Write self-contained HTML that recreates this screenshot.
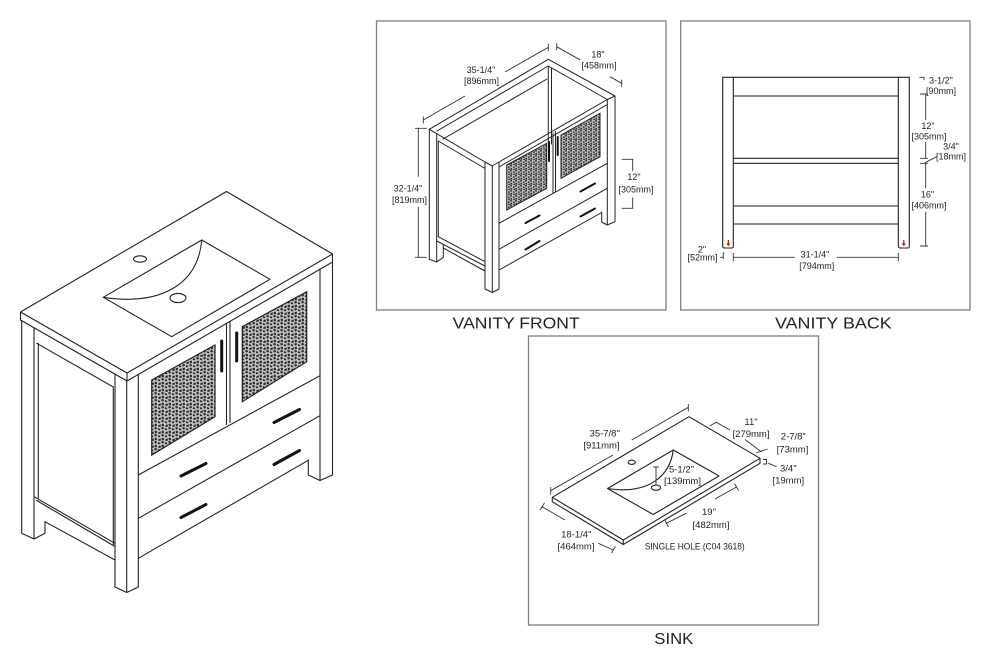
<!DOCTYPE html>
<html><head><meta charset="utf-8">
<style>
html,body{margin:0;padding:0;background:#fff;}
svg{display:block;}
text{font-family:"Liberation Sans",sans-serif;fill:#222;}
</style></head><body>
<svg width="990" height="664" viewBox="0 0 990 664" xmlns="http://www.w3.org/2000/svg">
<defs>
<pattern id="gl" width="7" height="7" patternUnits="userSpaceOnUse">
<rect width="7" height="7" fill="#c4c4c4"/>
<path d="M0,0.5 L2.5,0 L3,1.8 L1,2.6Z M4,1 L6.5,2 L5.5,3.5 L3.8,2.8Z M0.5,4 L2.8,3.6 L3,6 L1,6.5Z M4.5,5 L7,4.5 L6.5,7 L4.2,6.8Z" fill="#2a2a2a"/>
</pattern>
<pattern id="gs" width="5" height="5" patternUnits="userSpaceOnUse">
<rect width="5" height="5" fill="#bdbdbd"/>
<path d="M0,0 L2,0.3 L1.6,1.8 L0.2,1.5Z M3,1.2 L5,1.8 L4.2,3 L2.8,2.6Z M0.4,3 L2,2.8 L2.2,4.6 L0.6,4.8Z M3.4,3.8 L5,3.6 L4.8,5 L3.2,5Z" fill="#2a2a2a"/>
</pattern>
</defs>

<!-- ============ LEFT VANITY ============ -->
<g fill="none" stroke="#222" stroke-width="1.1" stroke-linejoin="round" stroke-linecap="round">
<path d="M226.5,191.5 L332.5,254 L127,373 L20.5,312 Z"/>
<path d="M20.5,312 V320 L127,381 L332.5,262 V254 M127,373 V381"/>
<path d="M103.3,297.3 L201.7,240 L270,279.3 L171.7,336.7 Z"/>
<path d="M201.7,240 C198,285 160,306 103.3,297.3"/>
<ellipse cx="140" cy="259" rx="6.5" ry="3.2"/>
<ellipse cx="178" cy="298" rx="8" ry="4.6"/>
<path d="M21.7,320.5 V533.3 L34,539 L45,533.3 V521.7 M34,327.5 V539"/>
<path d="M36.7,343.3 L113.3,387 M38.3,343.3 V498 M113.3,387 V545"/>
<path d="M34,496.7 L115,543.3 M36.7,500.5 L115,546.5 M45,521.7 L115,560"/>
<path d="M115,374 V587 L126.7,592.5 L138.3,587 V374.5 M126.7,381 V592.5"/>
<path d="M332.5,262 V475 L320,480.5 L308.3,475 V460 M320,269.5 V480.5"/>
<path d="M138.3,475 L320,375.7 M138.3,518.3 L320,415.7 M138.3,558.3 L308.3,460.3"/>
<path d="M226.5,323.5 V424.5 M230,321.5 V422.5"/>
</g>
<polygon points="151.7,380 215,345 215,416.7 151.7,455" fill="url(#gl)" stroke="#222" stroke-width="1.2"/>
<polygon points="242.3,326.7 306.7,291.7 306.7,361.7 242.3,401.7" fill="url(#gl)" stroke="#222" stroke-width="1.2"/>
<g stroke="#111" stroke-width="3" stroke-linecap="round">
<path d="M221.7,341 V371 M236.7,333 V361"/>
<path d="M181,476 L206,463.5 M274,422.5 L299.5,409.5 M181,517.5 L206,504.5 M274,464.5 L299.5,450.5"/>
</g>

<!-- ============ VANITY FRONT BOX ============ -->
<rect x="376.5" y="21" width="289.5" height="289" fill="none" stroke="#808080" stroke-width="1.3"/>
<g fill="none" stroke="#222" stroke-width="1" stroke-linejoin="round" stroke-linecap="round">
<path d="M429.3,129.3 L548.3,59.3 L615,96 V221.7 L607.3,225 L601.7,222 V212"/>
<path d="M429.3,129.3 V259.3 L436.7,262 L443.3,257.3 V245 M436.7,133.5 V262"/>
<path d="M429.3,129.3 L485,162 L492.3,166 L499,162 L607.3,99.5 L615,96"/>
<path d="M438.3,141 L485,168.5 M499,167 L607.3,104.5"/>
<path d="M437,131 L548.3,66 L607.3,99.5 M443,139 L547,79 M548.3,66 V142 M551.5,68 V144"/>
<path d="M485,162 V289 L492.3,292.5 L499,289 V162 M492.3,166 V292.5"/>
<path d="M438.3,141 V236.7 M438.3,236.7 L485,261.7 M436.7,241 L485,266 M443.3,248 L485,271"/>
<path d="M499,223.3 L607.3,163.3 M499,249.3 L607.3,188.3 M499,270 L601.7,212.5"/>
<path d="M607.3,99.5 V225"/>
<path d="M553,133 V193.5 M555.5,131.5 V192"/>
</g>
<polygon points="506.7,165 546.7,143.3 546.7,188.3 506.7,210" fill="url(#gs)" stroke="#222" stroke-width="1"/>
<polygon points="561,135 600,113.3 600,156.7 561,178.3" fill="url(#gs)" stroke="#222" stroke-width="1"/>
<g stroke="#111" stroke-width="2" stroke-linecap="round">
<path d="M549,142 V161 M557.7,137 V155"/>
<path d="M525.5,223 L539.5,215.5 M580.5,191.5 L595,183.5 M525.5,249.5 L539.5,241 M580.5,216.5 L595,208.5"/>
</g>
<g fill="none" stroke="#333" stroke-width="0.9">
<path d="M423.3,120 L465,96 M505,72 L548.3,47.3 M423.3,116.5 V123.5 M548.3,43.8 V50.8"/>
<path d="M556.7,46.7 L580,59.8 M610,76.7 L621.7,83.3 M556.7,43.2 V50.2 M621.7,79.8 V86.8"/>
<path d="M418.3,128.3 V176.7 M418.3,206.7 V257.3 M415,128.3 H426.7 M415,257.3 H426.7"/>
<path d="M632.7,159.3 V171 M632.7,197.5 V208.3 M621.7,159.3 H633.3 M621.7,208.3 H633.3"/>
</g>
<g font-size="9" text-anchor="middle">
<text x="481" y="73">35-1/4"</text>
<text x="481.5" y="84">[896mm]</text>
<text x="598" y="57.5">18"</text>
<text x="599" y="68.5">[458mm]</text>
<text x="408" y="191.5">32-1/4"</text>
<text x="409.5" y="203">[819mm]</text>
<text x="634" y="180">12"</text>
<text x="636" y="192.5">[305mm]</text>
</g>

<!-- ============ VANITY BACK BOX ============ -->
<rect x="680.7" y="21" width="289.3" height="289" fill="none" stroke="#808080" stroke-width="1.3"/>
<g fill="none" stroke="#222" stroke-width="1.1">
<path d="M722.7,246.7 V77.3 H909.3 V246.7 M733.3,77.3 V246.7 M898.3,77.3 V246.7"/>
<path d="M722.7,246.7 Q723,248 725,248 H731 Q733.3,248 733.3,246.7"/>
<path d="M898.3,246.7 Q898.6,248 900.6,248 H907 Q909.3,248 909.3,246.7"/>
<path d="M733.3,96 H898.3 M733.3,158.3 H898.3 M733.3,163.3 H898.3 M733.3,206 H898.3 M733.3,224 H898.3"/>
</g>
<g stroke="#e00000" stroke-width="1.2"><path d="M728.3,240 V244 M903.8,240 V244"/></g>
<g fill="#e00000"><polygon points="726.3,243.3 730.3,243.3 728.3,246.3"/><polygon points="901.8,243.3 905.8,243.3 903.8,246.3"/></g>
<g fill="none" stroke="#333" stroke-width="0.9">
<path d="M919.3,77.3 H924 V80"/>
<path d="M925.7,94 V120 M925.7,141.7 V158.3 M925.7,163.3 V188.3 M925.7,211.7 V246 M920,94 H928 M920,158.3 H928 M920,163.3 H928 M920,246 H928"/>
<path d="M925,162.7 L936.7,156.7"/>
<path d="M720,257.3 H723.3 M723.3,252 V259"/>
<path d="M733.3,257.3 H795 M836.7,257.3 H898.3 M733.3,253 V261.5 M898.3,253 V261.5"/>
</g>
<g font-size="9" text-anchor="middle">
<text x="941" y="83.5">3-1/2"</text>
<text x="941" y="94">[90mm]</text>
<text x="928" y="129">12"</text>
<text x="929" y="139.5">[305mm]</text>
<text x="951" y="149.5">3/4"</text>
<text x="951" y="159.5">[18mm]</text>
<text x="927.5" y="197.5">16"</text>
<text x="929" y="208.5">[406mm]</text>
<text x="702" y="252.5">2"</text>
<text x="702.5" y="260.5">[52mm]</text>
<text x="815" y="257.5">31-1/4"</text>
<text x="816.7" y="269">[794mm]</text>
</g>

<!-- ============ SINK BOX ============ -->
<rect x="528.5" y="336" width="290" height="289" fill="none" stroke="#808080" stroke-width="1.3"/>
<g fill="none" stroke="#222" stroke-width="1.1" stroke-linejoin="round">
<path d="M552.3,497.3 L689,416.7 L760,458.3 L623.3,540 Z"/>
<path d="M552.3,497.3 V501.8 L623.3,544.5 L760,463.3 V458.3 M623.3,540 V544.5"/>
<path d="M607.5,488.5 L673.3,450 L719,476 L653.2,514.5 Z"/>
<path d="M673.3,450 C670,475 650,495 607.5,488.5"/>
<ellipse cx="631.7" cy="462.3" rx="3.6" ry="2.1"/>
<ellipse cx="656" cy="487.7" rx="4.6" ry="2.6"/>
</g>
<g fill="none" stroke="#333" stroke-width="0.9">
<path d="M656,467 V485 M653.3,467 H658.7"/>
<path d="M550.7,490.7 L613,455 M631.7,440 L688.3,407.3 M550.7,487 V494.5 M688.3,404 V411.5"/>
<path d="M542,506.7 L565,520 M598.3,543.3 L613.3,550 M540,510 L544.5,503 M611.5,553 L615.5,546.5"/>
<path d="M709.7,426 L716.3,422.3 L730,430 M745,439.5 L761.5,452 M756,453 L767.5,449"/>
<path d="M763,459.5 H766.5 V464 H763 M768.3,463.3 L776.7,466.7"/>
<path d="M666.3,523.3 L686.3,513.3 M715,499 L736.5,487 M664.5,519.5 L668.5,527 M734.5,483.5 L738.5,490.5"/>
</g>
<g font-size="9.5" text-anchor="middle">
<text x="604.7" y="436.5">35-7/8"</text>
<text x="601.5" y="448.5">[911mm]</text>
<text x="681.5" y="472.5">5-1/2"</text>
<text x="682.5" y="484">[139mm]</text>
<text x="751" y="425">11"</text>
<text x="751" y="437">[279mm]</text>
<text x="793.3" y="439.5">2-7/8"</text>
<text x="792.5" y="452.5">[73mm]</text>
<text x="788.3" y="471.5">3/4"</text>
<text x="788.3" y="483.5">[19mm]</text>
<text x="709" y="515">19"</text>
<text x="711" y="528">[482mm]</text>
<text x="576.3" y="537.5">18-1/4"</text>
<text x="576" y="549.5">[464mm]</text>
<text x="694.7" y="549.5" textLength="100" lengthAdjust="spacingAndGlyphs">SINGLE HOLE (C04 3618)</text>
</g>

<!-- ============ TITLES ============ -->
<g font-size="15.5">
<text x="452.7" y="328.3" textLength="127" lengthAdjust="spacingAndGlyphs">VANITY FRONT</text>
<text x="775" y="328.3" textLength="116.7" lengthAdjust="spacingAndGlyphs">VANITY BACK</text>
<text x="654.3" y="644" textLength="39" lengthAdjust="spacingAndGlyphs">SINK</text>
</g>
</svg>
</body></html>
